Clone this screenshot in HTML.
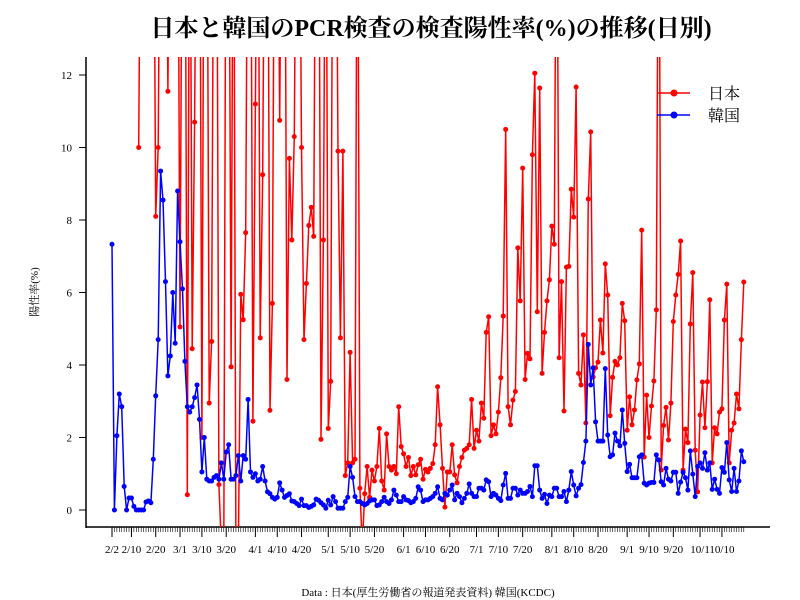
<!DOCTYPE html>
<html><head><meta charset="utf-8">
<style>
html,body{margin:0;padding:0;background:#fff;}
svg{display:block;}
text{font-family:"Liberation Serif","Noto Serif CJK JP","Noto Sans CJK JP",serif;}
</style></head>
<body>
<svg id="chart" width="800" height="600" viewBox="0 0 800 600">
<rect width="800" height="600" fill="#fff"/>
<text x="431" y="36" font-size="24" font-weight="bold" text-anchor="middle">日本と韓国のPCR検査の検査陽性率(%)の推移(日別)</text>
<text transform="translate(38,292) rotate(-90)" font-size="11" text-anchor="middle">陽性率(%)</text>
<text x="428" y="596" font-size="11" text-anchor="middle">Data : 日本(厚生労働省の報道発表資料) 韓国(KCDC)</text>
<defs><clipPath id="plotclip"><rect x="87" y="57" width="683" height="470"/></clipPath></defs>
<g id="axes"></g>
<g id="series" clip-path="url(#plotclip)"></g>
<g>
<g>
<line x1="657" y1="93" x2="690" y2="93" stroke="#f00" stroke-width="1.5"/><circle cx="674" cy="93" r="3.5" fill="#f00"/>
<text x="708" y="99" font-size="16">日本</text></g>
<g>
<line x1="657" y1="115" x2="690" y2="115" stroke="#00f" stroke-width="1.5"/><circle cx="674" cy="115" r="3.5" fill="#00f"/>
<text x="708" y="121" font-size="16">韓国</text></g>
</g>
</svg>
<script>
const N = null;
const japanValues = [N,N,N,N,N,N,N,N,N,N,N,
10.0,20,20,20,20,20,20,8.1,10.0,20,20,20,11.55,20,20,20,20,5.05,20,20,0.42,20,4.45,10.7,
20,20,2.0,20,20,2.95,4.65,20,20,0.7,-1,-1,20,20,3.95,20,-1,-1,5.95,5.25,7.65,20,20,2.45,11.2,20,4.75,9.25,20,20,2.75,5.7,20,20,10.75,20,20,3.6,9.7,7.45,10.3,
20,20,10.0,4.7,6.25,7.85,8.35,7.55,20,20,1.95,7.45,20,2.25,3.55,20,20,9.9,4.75,9.9,0.95,1.3,4.35,1.3,1.4,20,0.6,-1,0.45,1.2,0.35,1.1,0.8,1.2,2.25,0.8,0.55,2.1,1.2,
1.1,1.2,1.0,2.85,1.75,1.55,1.2,1.45,0.95,1.2,0.97,1.25,1.4,0.85,1.12,1.05,1.15,1.28,1.8,3.4,2.35,1.15,0.08,1.05,1.05,1.8,0.97,0.75,1.2,1.45,1.65,1.7,1.8,3.05,1.7,2.2,
1.9,2.95,2.53,4.9,5.33,2.05,2.35,2.1,2.7,3.65,5.35,10.5,2.85,2.35,3.03,3.27,7.23,5.77,9.43,3.6,4.32,4.17,9.8,12.05,5.47,11.64,3.77,4.9,5.77,6.35,7.83,7.33,20,4.2,6.3,2.73,6.7,6.72,8.85,8.08,11.67,
3.77,3.45,4.83,2.4,8.58,10.43,3.67,3.92,4.08,5.24,4.33,6.79,5.93,2.6,3.66,4.1,4.0,4.2,5.7,5.22,2.2,3.12,2.35,2.76,3.59,4.03,7.72,1.46,3.17,2.0,2.87,3.56,5.52,20,1.1,
2.33,2.83,1.93,2.95,5.2,5.93,6.5,7.42,1.1,2.23,1.86,5.13,6.55,1.65,0.5,2.62,3.53,2.27,3.54,5.8,1.3,2.27,2.1,2.7,2.79,5.24,6.23,1.3,2.2,2.4,3.2,2.79,4.7,6.29];
const koreaValues = [7.33,0,2.05,3.2,2.85,0.65,0,0.33,0.33,0.1,0,0,0,0,0.22,0.25,0.2,1.4,3.15,4.7,9.35,8.55,6.3,3.7,4.25,6.0,4.6,8.8,7.4,6.1,4.1,2.85,2.7,2.85,3.1,3.45,2.5,
1.05,2.0,0.85,0.8,0.8,0.9,0.95,0.85,1.3,0.85,1.6,1.8,0.85,0.85,0.95,1.5,0.8,1.5,1.4,3.05,1.05,0.9,1.0,0.8,0.85,1.2,0.8,0.5,0.45,0.35,0.3,0.35,0.75,0.55,0.35,0.4,0.45,0.25,
0.23,0.18,0.12,0.3,0.12,0.12,0.07,0.1,0.14,0.3,0.27,0.2,0.14,0.05,0.27,0.14,0.37,0.23,0.05,0.05,0.05,0.23,0.35,1.2,0.9,0.37,0.23,0.23,0.18,0.14,0.18,0.25,0.28,0.28,0.12,0.14,0.23,0.35,0.23,0.18,
0.28,0.55,0.41,0.23,0.23,0.37,0.28,0.26,0.2,0.23,0.32,0.64,0.55,0.23,0.28,0.28,0.32,0.37,0.46,0.64,0.32,0.28,0.46,0.41,0.55,0.69,0.28,0.46,0.37,0.2,0.32,0.46,0.72,0.46,0.37,0.37,
0.6,0.6,0.55,0.83,0.78,0.37,0.46,0.41,0.32,0.26,0.69,1.01,0.32,0.32,0.6,0.6,0.41,0.55,0.46,0.46,0.51,0.65,0.37,1.22,1.22,0.55,0.32,0.43,0.18,0.41,0.37,0.6,0.6,0.37,0.37,0.51,0.23,0.55,1.06,
0.69,0.39,0.6,0.7,1.31,1.9,4.57,3.45,3.92,2.43,1.9,1.9,1.9,3.9,2.07,1.47,1.52,2.12,1.9,1.77,2.76,1.84,1.06,1.26,0.89,0.89,0.89,1.47,1.52,0.74,0.69,0.74,0.76,0.76,1.52,1.38,0.78,
0.69,1.15,0.85,0.8,1.04,1.04,0.46,0.77,1.04,0.89,0.55,1.63,0.99,0.37,1.2,1.3,1.15,1.58,1.1,1.3,0.57,0.85,0.57,0.46,1.17,1.04,1.86,0.83,0.51,1.15,0.51,0.8,1.63,1.33];
const xTickDays = [0,8,18,28,37,47,59,68,78,89,98,108,120,129,139,150,159,169,181,190,200,212,221,231,242,251];
const xTickLabels = ["2/2","2/10","2/20","3/1","3/10","3/20","4/1","4/10","4/20","5/1","5/10","5/20","6/1","6/10","6/20","7/1","7/10","7/20","8/1","8/10","8/20","9/1","9/10","9/20","10/1","10/10"];
const yTicks = [0,2,4,6,8,10,12];

const NS = "http://www.w3.org/2000/svg";
const xScale = d => 112 + d * 2.43;
const yScale = v => 510 - v * 36.25;
function mk(tag, attrs, parent){const e=document.createElementNS(NS,tag);for(const k in attrs)e.setAttribute(k,attrs[k]);parent.appendChild(e);return e;}
const axes = document.getElementById('axes');
const series = document.getElementById('series');

const ya = mk('line',{x1:86,y1:57,x2:86,y2:528,stroke:'#000','stroke-width':1.5},axes);


const xa = mk('line',{x1:86,y1:527,x2:770,y2:527,stroke:'#000','stroke-width':1.5},axes);



yTicks.forEach(v=>{
  const t = mk('line',{x1:79,y1:yScale(v),x2:86,y2:yScale(v),stroke:'#000','stroke-width':1},axes);
  
  
  const l = mk('text',{x:72,y:yScale(v)+4,'font-size':11,'text-anchor':'end'},axes);
  l.textContent = v;
  
  
});
for(let d=0; d<koreaValues.length; d++){
  const t = mk('line',{x1:xScale(d),y1:527,x2:xScale(d),y2:532,stroke:'#000','stroke-width':0.6},axes);
  
  
}
xTickDays.forEach((d,i)=>{
  const t = mk('line',{x1:xScale(d),y1:527,x2:xScale(d),y2:537,stroke:'#000','stroke-width':1},axes);
  
  
  const l = mk('text',{x:xScale(d),y:553,'font-size':11,'text-anchor':'middle'},axes);
  l.textContent = xTickLabels[i];
  
  
});

function drawSeries(vals,color,name){
  let segs=[],cur=[];
  vals.forEach((v,d)=>{ if(v===null){ if(cur.length)segs.push(cur); cur=[]; } else cur.push([xScale(d),yScale(v)]); });
  if(cur.length)segs.push(cur);
  segs.forEach(s=>{
    const p = mk('polyline',{points:s.map(q=>q[0].toFixed(1)+','+q[1].toFixed(1)).join(' '),fill:'none',stroke:color,'stroke-width':1.5,'stroke-linejoin':'round'},series);
    
    
  });
  vals.forEach((v,d)=>{
    if(v===null) return;
    const c = mk('circle',{cx:xScale(d),cy:yScale(v),r:2.5,fill:color},series);
    
    
  });
}
drawSeries(japanValues,'#ff0000','japan');
drawSeries(koreaValues,'#0000ff','korea');
</script>
</body></html>
